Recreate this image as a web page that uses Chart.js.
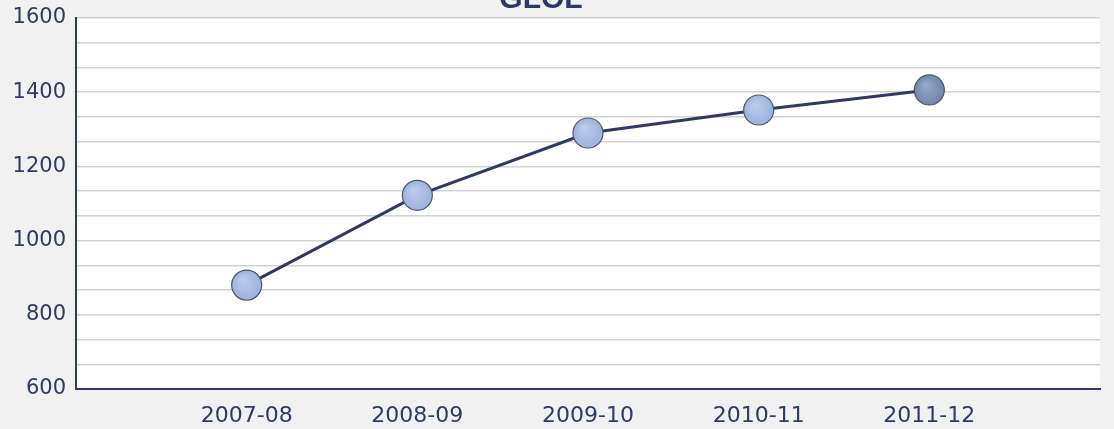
<!DOCTYPE html>
<html>
<head>
<meta charset="utf-8">
<script src="https://cdn.jsdelivr.net/npm/chart.js@4"></script>
<style>
  html, body { margin: 0; padding: 0; background: #f1f1f1; }
  #wrap { width: 1114px; height: 429px; position: relative; }
</style>
</head>
<body>
<div id="wrap"><canvas id="glolChart"></canvas></div>
<script>
// Data
const title = 'GLOL';
const categories = ['2007-08', '2008-09', '2009-10', '2010-11', '2011-12'];
const values = [880, 1122, 1290, 1352, 1406];
const yMin = 600;
const yMax = 1600;
const labelStep = 200;

// one empty slot either side of the categories, as in the original
const labels = ['', ...categories, ''];
const series = [null, ...values, null];

// backgrounds + title text
const decorPlugin = {
    id: 'decor',
    beforeDraw(chart) {
        const { ctx, chartArea: a } = chart;
        ctx.save();
        ctx.fillStyle = '#f1f1f1';
        ctx.fillRect(0, 0, chart.width, chart.height);
        ctx.fillStyle = '#ffffff';
        ctx.fillRect(a.left, a.top, a.right - a.left, a.bottom - a.top);
        ctx.restore();
    },
    afterDraw(chart) {
        const { ctx } = chart;
        ctx.save();
        ctx.font = 'bold 30px "Liberation Sans", Arial, sans-serif';
        ctx.fillStyle = '#2b3966';
        ctx.textAlign = 'center';
        ctx.textBaseline = 'alphabetic';
        ctx.fillText(title, 541, 8);
        ctx.restore();
    }
};

// radial shading like the original markers
function pointFill(context) {
    const last = context.dataIndex === series.length - 2;
    const el = context.element;
    if (!el || el.x == null || isNaN(el.x)) return last ? '#7f95b8' : '#a9bde2';
    const g = context.chart.ctx.createRadialGradient(el.x - 4, el.y - 5, 1, el.x, el.y, 15);
    if (last) {
        g.addColorStop(0, '#93a8c8');
        g.addColorStop(1, '#6f86aa');
    } else {
        g.addColorStop(0, '#bccbea');
        g.addColorStop(1, '#9cb2dc');
    }
    return g;
}

const ctx = document.getElementById('glolChart').getContext('2d');
const chart = new Chart(ctx, {
    type: 'line',
    data: {
        labels: labels,
        datasets: [{
            label: title,
            data: series,
            borderColor: '#2f3a64',
            borderWidth: 3,
            tension: 0,
            fill: false,
            pointRadius: 15,
            pointBorderWidth: 1.2,
            pointBorderColor: '#4d5566',
            pointBackgroundColor: pointFill
        }]
    },
    options: {
        responsive: true,
        maintainAspectRatio: false,
        animation: false,
        layout: { autoPadding: false, padding: { left: 12, right: 13, top: 0, bottom: 0 } },
        plugins: {
            legend: { display: false },
            tooltip: { enabled: false }
        },
        scales: {
            x: {
                offset: false,
                afterFit(scale) { scale.height = 40; },
                grid: { display: false, drawTicks: false },
                border: { display: true, color: '#2d3a66', width: 2 },
                ticks: {
                    color: '#2f3b63',
                    font: { family: '"DejaVu Sans", Verdana, sans-serif', size: 22 },
                    padding: 14,
                    maxRotation: 0,
                    autoSkip: false
                }
            },
            y: {
                min: yMin,
                max: yMax,
                afterFit(scale) {
                    scale.width = 64;
                    scale.paddingTop = 18;
                    scale.paddingBottom = 0;
                },
                afterBuildTicks(scale) {
                    const ticks = [];
                    for (let i = 0; i <= 15; i++) {
                        ticks.push({ value: yMin + i * labelStep / 3 });
                    }
                    scale.ticks = ticks;
                },
                grid: { color: '#d2d2d2', lineWidth: 1.5, drawTicks: false },
                border: { display: true, color: '#2d3a66', width: 2 },
                ticks: {
                    color: '#2f3b63',
                    font: { family: '"DejaVu Sans", Verdana, sans-serif', size: 21 },
                    padding: 10,
                    autoSkip: false,
                    callback(value) {
                        const r = Math.round(value);
                        return Math.abs(value - r) < 0.01 && r % labelStep === 0 ? String(r) : '';
                    }
                }
            }
        }
    },
    plugins: [decorPlugin]
});
</script>
</body>
</html>
